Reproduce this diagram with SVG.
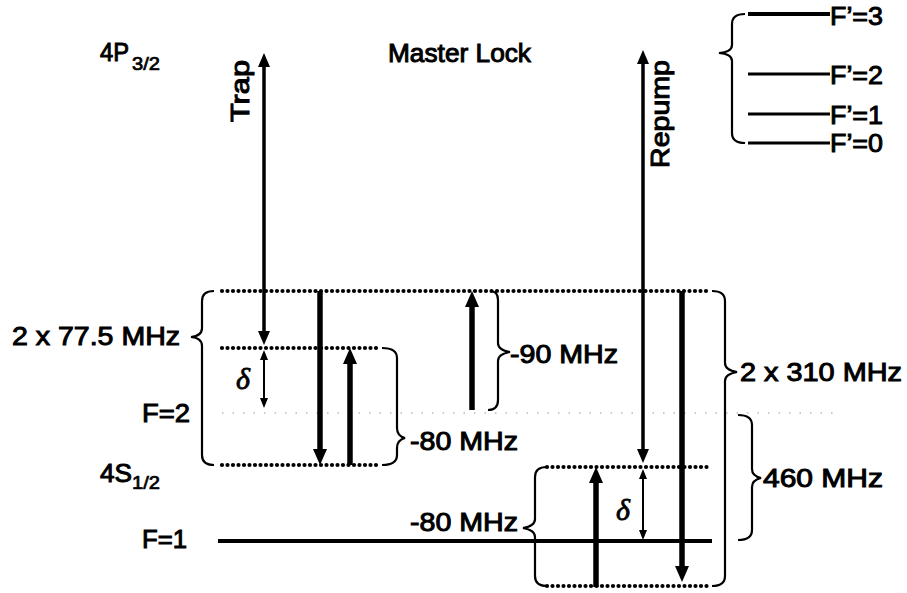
<svg xmlns="http://www.w3.org/2000/svg" width="907" height="593" viewBox="0 0 907 593">
<style>
  .t { font-family: "Liberation Sans", Arial, sans-serif; font-size: 26px; fill: #000; stroke: #000; stroke-width: 1; }
  .sub { font-family: "Liberation Sans", Arial, sans-serif; font-size: 18px; fill: #000; stroke: #000; stroke-width: 0.7; }
  .d { font-family: "Liberation Serif", "Times New Roman", serif; font-style: italic; font-size: 30px; fill: #000; stroke: #000; stroke-width: 0.8; }
  .dot { stroke: #000; stroke-width: 4.2; stroke-linecap: round; stroke-dasharray: 0 5.5; fill: none; }
  .faint { stroke: #bbb; stroke-width: 1.5; stroke-dasharray: 1.5 9; fill: none; }
  .br { stroke: #000; stroke-width: 2.2; fill: none; }
  .lvl { stroke: #000; stroke-width: 3; fill: none; }
  .thick { stroke: #000; stroke-width: 5.5; fill: none; }
  .mid { stroke: #000; stroke-width: 3.5; fill: none; }
  .thin { stroke: #000; stroke-width: 2; fill: none; }
</style>
<defs>
  <marker id="ah" markerUnits="userSpaceOnUse" viewBox="0 0 16 14" markerWidth="16" markerHeight="14" refX="4" refY="7" orient="auto-start-reverse">
    <path d="M0,0 L16,7 L0,14 z" fill="#000"/>
  </marker>
  <marker id="am" markerUnits="userSpaceOnUse" viewBox="0 0 14 12" markerWidth="14" markerHeight="12" refX="4" refY="6" orient="auto-start-reverse">
    <path d="M0,0 L14,6 L0,12 z" fill="#000"/>
  </marker>
  <marker id="as" markerUnits="userSpaceOnUse" viewBox="0 0 10 8" markerWidth="10" markerHeight="8" refX="3" refY="4" orient="auto-start-reverse">
    <path d="M0,0 L10,4 L0,8 z" fill="#000"/>
  </marker>
</defs>

<g id="levels">
  <line class="faint" x1="222" y1="413" x2="840" y2="413"/>
  <line class="dot" x1="222" y1="291" x2="710" y2="291"/>
  <line class="dot" x1="222" y1="348" x2="380" y2="348"/>
  <line class="dot" x1="222" y1="465" x2="380" y2="465"/>
  <line class="dot" x1="547" y1="467" x2="710" y2="467"/>
  <line class="dot" x1="547" y1="586" x2="710" y2="586"/>
  <line class="lvl" x1="218" y1="541" x2="712" y2="541" style="stroke-width:4"/>
</g>

<g id="excited-levels">
  <line class="lvl" x1="748" y1="14" x2="830" y2="14" style="stroke-width:4"/>
  <line class="lvl" x1="748" y1="74" x2="830" y2="74"/>
  <line class="lvl" x1="748" y1="114" x2="830" y2="114"/>
  <line class="lvl" x1="748" y1="143" x2="830" y2="143"/>
  <path class="br" d="M745,14 Q732,14 732,24 L732,45 Q732,52 719,53 Q732,54 732,61 L732,133 Q732,143 745,143"/>
  <text class="t" x="830" y="25" textLength="53" lengthAdjust="spacingAndGlyphs">F’=3</text>
  <text class="t" x="830" y="84" textLength="53" lengthAdjust="spacingAndGlyphs">F’=2</text>
  <text class="t" x="830" y="124" textLength="53" lengthAdjust="spacingAndGlyphs">F’=1</text>
  <text class="t" x="830" y="152" textLength="53" lengthAdjust="spacingAndGlyphs">F’=0</text>
</g>

<g id="braces">
  <path class="br" d="M214,291 Q202,291 202,301 L202,328 Q202,336 191,337 Q202,338 202,346 L202,455 Q202,465 214,465"/>
  <path class="br" d="M382,348 Q397,348 397,358 L397,428 Q397,436 405,438 Q397,440 397,448 L397,455 Q397,465 382,465"/>
  <path class="br" d="M490,291 Q498,291 498,300 L498,343 Q498,350 510,352 Q498,354 498,361 L498,400 Q498,410 488,410"/>
  <path class="br" d="M712,291 Q725,291 725,301 L725,363 Q725,370 737,372 Q725,374 725,381 L725,576 Q725,586 712,586"/>
  <path class="br" d="M738,415 Q752,415 752,425 L752,469 Q752,476 761,478 Q752,480 752,487 L752,530 Q752,540 738,540"/>
  <path class="br" d="M547,467 Q535,467 535,477 L535,519 Q535,526 523,528 Q535,530 535,537 L535,576 Q535,586 547,586"/>
</g>

<g id="connectors">
  <line class="mid" x1="264" y1="63" x2="264" y2="335" marker-start="url(#am)" marker-end="url(#am)"/>
  <line class="mid" x1="643" y1="60" x2="643" y2="453" marker-start="url(#am)" marker-end="url(#am)"/>
  <line class="thin" x1="264" y1="357" x2="264" y2="401" marker-start="url(#as)" marker-end="url(#as)"/>
  <line class="thin" x1="643" y1="476" x2="643" y2="533" marker-start="url(#as)" marker-end="url(#as)"/>
  <line class="thick" x1="320" y1="291" x2="320" y2="453" marker-end="url(#ah)"/>
  <line class="thick" x1="350" y1="465" x2="350" y2="360" marker-end="url(#ah)"/>
  <line class="thick" x1="472" y1="410" x2="472" y2="303" marker-end="url(#ah)"/>
  <line class="thick" x1="682" y1="291" x2="682" y2="570" marker-end="url(#ah)"/>
  <line class="thick" x1="596" y1="587" x2="596" y2="479" marker-end="url(#ah)"/>
</g>

<g id="labels">
  <text class="t" x="100" y="61" textLength="29" lengthAdjust="spacingAndGlyphs">4P</text>
  <text class="sub" x="132" y="70" textLength="28" lengthAdjust="spacingAndGlyphs">3/2</text>
  <text class="t" x="388" y="62" textLength="143" lengthAdjust="spacingAndGlyphs">Master Lock</text>
  <text class="t" transform="translate(249,122) rotate(-90)" textLength="62" lengthAdjust="spacingAndGlyphs">Trap</text>
  <text class="t" transform="translate(669,168) rotate(-90)" textLength="108" lengthAdjust="spacingAndGlyphs">Repump</text>
  <text class="t" x="12" y="345" textLength="168" lengthAdjust="spacingAndGlyphs">2 x 77.5 MHz</text>
  <text class="t" x="142" y="422" textLength="48" lengthAdjust="spacingAndGlyphs">F=2</text>
  <text class="t" x="100" y="482" textLength="32" lengthAdjust="spacingAndGlyphs">4S</text>
  <text class="sub" x="132" y="489" textLength="28" lengthAdjust="spacingAndGlyphs">1/2</text>
  <text class="t" x="142" y="548" textLength="45" lengthAdjust="spacingAndGlyphs">F=1</text>
  <text class="t" x="510" y="363" textLength="108" lengthAdjust="spacingAndGlyphs">-90 MHz</text>
  <text class="t" x="410" y="450" textLength="108" lengthAdjust="spacingAndGlyphs">-80 MHz</text>
  <text class="t" x="410" y="531" textLength="108" lengthAdjust="spacingAndGlyphs">-80 MHz</text>
  <text class="t" x="740" y="381" textLength="162" lengthAdjust="spacingAndGlyphs">2 x 310 MHz</text>
  <text class="t" x="763" y="487" textLength="120" lengthAdjust="spacingAndGlyphs">460 MHz</text>
  <text class="d" x="236" y="389">δ</text>
  <text class="d" x="616" y="520">δ</text>
</g>
</svg>
